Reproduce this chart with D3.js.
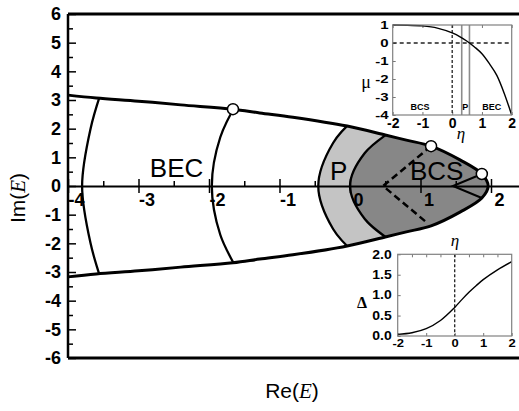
<!DOCTYPE html>
<html>
<head>
<meta charset="utf-8">
<script src="https://cdn.jsdelivr.net/npm/d3@7"></script>
<style>
  body { margin: 0; background: #fff; }
  svg { display: block; font-family: "Liberation Sans", Arial, sans-serif; }
</style>
</head>
<body>
<svg id="chart" width="519" height="411"></svg>
<script>
// outer edge of the spectrum, traced from the top-left round the tip to the bottom-left
const boundaryRe = [-4.0, -3.6, -3.0, -2.4, -1.66, -1.28, -0.81, -0.04, 0.5, 0.8, 1.15, 1.56, 1.87, 1.96,
  1.87, 1.56, 1.15, 0.8, 0.5, -0.04, -0.81, -1.28, -1.66, -2.4, -3.0, -3.6, -4.0];
const boundaryIm = [3.17, 3.07, 2.96, 2.83, 2.68, 2.55, 2.4, 2.09, 1.78, 1.6, 1.39, 0.91, 0.42, 0,
  -0.42, -0.91, -1.39, -1.6, -1.78, -2.09, -2.4, -2.55, -2.68, -2.83, -2.96, -3.07, -3.17];

// inner level curves (end points sit just outside the edge, the clip trims them)
const becOuterRe = [-3.5, -3.68, -3.8, -3.68, -3.5];
const becOuterIm = [3.5, 2.0, 0, -2.0, -3.5];
const becInnerRe = [-1.58, -1.84, -1.96, -1.84, -1.58];
const becInnerIm = [3.0, 1.7, 0, -1.7, -3.0];
const pEdgeRe = [0.09, -0.24, -0.45, -0.24, 0.09];
const pEdgeIm = [2.4, 1.5, 0, -1.5, -2.4];
const bcsEdgeRe = [0.7, 0.21, 0.0, 0.21, 0.7];
const bcsEdgeIm = [2.1, 1.15, 0, -1.15, -2.1];

const dashRe = [1.15, 0.47, 1.1];
const dashIm = [1.39, 0, -1.3];
const chevronRe = [1.87, 1.46, 1.87];
const chevronIm = [0.42, 0, -0.42];
const markerRe = [-1.66, 1.15, 1.87];
const markerIm = [2.68, 1.39, 0.42];

const regionNames = ["BEC", "P", "BCS"];
const regionRe = [-2.46, -0.16, 1.23];
const regionIm = [0.31, 0.21, 0.21];

const xTicks = [-4, -3, -2, -1, 0, 1, 2];
const xMinorTicks = [-3.5, -2.5, -1.5, -0.5, 0.5, 1.5];
const yTicks = [-6, -5, -4, -3, -2, -1, 0, 1, 2, 3, 4, 5, 6];
const yMinorTicks = [-5.5, -4.5, -3.5, -2.5, -1.5, -0.5, 0.5, 1.5, 2.5, 3.5, 4.5, 5.5];

// inset: chemical potential
const etaMu = [-2, -1.5, -1, -0.5, 0, 0.25, 0.5, 0.75, 1, 1.25, 1.5, 1.75, 2];
const muValues = [1.0, 0.99, 0.95, 0.83, 0.56, 0.36, 0.1, -0.22, -0.6, -1.15, -1.8, -2.8, -4.0];
const phaseBorders = [0.32, 0.58];
const phaseNames = ["BCS", "P", "BEC"];
const phaseEta = [-1.08, 0.44, 1.33];
const muTicks = [-4, -3, -2, -1, 0, 1];

// inset: gap
const etaGap = [-2, -1.5, -1, -0.5, 0, 0.25, 0.5, 0.75, 1, 1.5, 2];
const gapValues = [0.04, 0.08, 0.18, 0.38, 0.7, 0.89, 1.07, 1.23, 1.38, 1.62, 1.82];
const gapTicks = [0, 0.5, 1, 1.5, 2];
const etaTicks = [-2, -1, 0, 1, 2];
const etaHalfTicks = [-1.5, -1, -0.5, 0, 0.5, 1, 1.5];

const svg = d3.select("#chart");
const x = d3.scaleLinear([-4, 2.5], [68, 526.25]);
const y = d3.scaleLinear([-6, 6], [358, 14]);
const pts = (re, im) => re.map((r, i) => [x(r), y(im[i])]);
const smooth = d3.line().curve(d3.curveCatmullRom.alpha(0.5));
const straight = d3.line();

function drawRegions() {
  svg.append("clipPath").attr("id", "inside")
    .append("path").attr("d", smooth(pts(boundaryRe, boundaryIm)) + "Z");

  const g = svg.append("g").attr("clip-path", "url(#inside)");
  const farRight = `L${x(3)},${y(-4)}L${x(3)},${y(4)}Z`;
  g.append("path").attr("d", smooth(pts(pEdgeRe, pEdgeIm)) + farRight).attr("fill", "#c4c4c4");
  g.append("path").attr("d", smooth(pts(bcsEdgeRe, bcsEdgeIm)) + farRight).attr("fill", "#878787");

  [[becOuterRe, becOuterIm], [becInnerRe, becInnerIm], [pEdgeRe, pEdgeIm], [bcsEdgeRe, bcsEdgeIm]]
    .forEach(([re, im]) => {
      g.append("path").attr("d", smooth(pts(re, im)))
        .attr("fill", "none").attr("stroke", "#000").attr("stroke-width", 2.3);
    });

  svg.append("path").attr("d", smooth(pts(boundaryRe, boundaryIm)))
    .attr("fill", "none").attr("stroke", "#000").attr("stroke-width", 3);
}

function drawAxes() {
  const frame = svg.append("g").attr("stroke", "#000");
  frame.append("line").attr("x1", 68).attr("x2", 519).attr("y1", 14).attr("y2", 14).attr("stroke-width", 3);
  frame.append("line").attr("x1", 68).attr("x2", 519).attr("y1", 358).attr("y2", 358).attr("stroke-width", 3);
  frame.append("line").attr("x1", 68).attr("x2", 68).attr("y1", 14).attr("y2", 358).attr("stroke-width", 2.5);

  const yAxis = svg.append("g").attr("transform", "translate(68,0)")
    .call(d3.axisLeft(y).tickValues(yTicks).tickSize(-8).tickPadding(7).tickFormat(String));
  yAxis.select(".domain").remove();
  yAxis.selectAll("line").attr("stroke-width", 1.5);
  yAxis.selectAll("text").attr("font-size", 18).attr("font-weight", "bold")
    .attr("font-family", "Liberation Sans, Arial, sans-serif").attr("fill", "#000");

  const yMinor = svg.append("g").attr("transform", "translate(68,0)")
    .call(d3.axisLeft(y).tickValues(yMinorTicks).tickSize(-5).tickFormat(""));
  yMinor.select(".domain").remove();
  yMinor.selectAll("line").attr("stroke-width", 1.5);

  const xAxis = svg.append("g").attr("transform", `translate(0,${y(0)})`)
    .call(d3.axisBottom(x).tickValues(xTicks).tickSize(7).tickSizeOuter(0).tickPadding(0).tickFormat(String));
  xAxis.select(".domain").attr("stroke-width", 2);
  xAxis.selectAll(".tick line").attr("y1", -7).attr("stroke-width", 1.5);
  xAxis.selectAll("text").attr("dx", 8).attr("font-size", 18).attr("font-weight", "bold")
    .attr("font-family", "Liberation Sans, Arial, sans-serif").attr("fill", "#000");

  const xMinor = svg.append("g").attr("transform", `translate(0,${y(0)})`)
    .call(d3.axisBottom(x).tickValues(xMinorTicks).tickSize(-5).tickFormat(""));
  xMinor.select(".domain").remove();
  xMinor.selectAll("line").attr("stroke-width", 1.5);

  svg.append("text").attr("x", 292).attr("y", 398).attr("text-anchor", "middle").attr("font-size", 21)
    .call((t) => {
      t.append("tspan").text("Re(");
      t.append("tspan").attr("font-family", "Liberation Serif, serif").attr("font-style", "italic").text("E");
      t.append("tspan").text(")");
    });
  svg.append("text").attr("transform", "translate(18,198) rotate(-90)").attr("dy", "0.35em")
    .attr("text-anchor", "middle").attr("font-size", 21)
    .call((t) => {
      t.append("tspan").text("Im(");
      t.append("tspan").attr("font-family", "Liberation Serif, serif").attr("font-style", "italic").text("E");
      t.append("tspan").text(")");
    });
}

function drawPaths() {
  svg.append("path").attr("d", straight(pts(dashRe, dashIm)))
    .attr("fill", "none").attr("stroke", "#000").attr("stroke-width", 2.5).attr("stroke-dasharray", "7,4");
  svg.append("path").attr("d", straight(pts(chevronRe, chevronIm)))
    .attr("fill", "none").attr("stroke", "#000").attr("stroke-width", 2);

  svg.selectAll("circle.marker").data(markerRe).join("circle").attr("class", "marker")
    .attr("cx", (d) => x(d)).attr("cy", (d, i) => y(markerIm[i])).attr("r", 5.5)
    .attr("fill", "#fff").attr("stroke", "#000").attr("stroke-width", 1.5);

  svg.selectAll("text.region").data(regionNames).join("text").attr("class", "region")
    .attr("x", (d, i) => x(regionRe[i])).attr("y", (d, i) => y(regionIm[i]))
    .attr("text-anchor", "middle").attr("font-size", 26).text((d) => d);
}

function styleInsetAxis(g, size, squash) {
  g.select(".domain").remove();
  g.selectAll("line").attr("stroke", "#777");
  g.selectAll("text").attr("font-size", size).attr("font-weight", "bold")
    .attr("font-family", "Liberation Sans, Arial, sans-serif").attr("fill", "#000");
  if (squash) g.selectAll("text").attr("transform", `scale(1,${squash})`);
}

function drawMuInset() {
  const ex = d3.scaleLinear([-2, 2], [392.7, 511.7]);
  const ey = d3.scaleLinear([-4, 1], [115, 25]);
  const [left, right] = ex.range();
  const [bottom, top] = ey.range();
  const g = svg.append("g");
  g.append("rect").attr("x", left).attr("y", top).attr("width", right - left).attr("height", bottom - top).attr("fill", "#fff");

  styleInsetAxis(g.append("g").attr("transform", `translate(0,${bottom})`)
    .call(d3.axisBottom(ex).tickValues(etaTicks).tickSize(-3).tickPadding(3).tickFormat(String)), 14);
  styleInsetAxis(g.append("g").attr("transform", `translate(0,${top})`)
    .call(d3.axisTop(ex).tickValues(etaTicks).tickSize(-3).tickFormat("")), 14);
  styleInsetAxis(g.append("g").attr("transform", `translate(${left},0)`)
    .call(d3.axisLeft(ey).tickValues(muTicks).tickSize(-3).tickPadding(4).tickFormat(String)), 15, 0.75);

  phaseBorders.forEach((e) => {
    g.append("line").attr("x1", ex(e)).attr("x2", ex(e)).attr("y1", top).attr("y2", bottom)
      .attr("stroke", "#8c8c8c").attr("stroke-width", 1.6);
  });
  g.append("line").attr("x1", ex(0)).attr("x2", ex(0)).attr("y1", top).attr("y2", bottom)
    .attr("stroke", "#222").attr("stroke-width", 1.3).attr("stroke-dasharray", "3,2");
  g.append("line").attr("x1", left).attr("x2", right).attr("y1", ey(0)).attr("y2", ey(0))
    .attr("stroke", "#222").attr("stroke-width", 1.3).attr("stroke-dasharray", "4,3");

  const line = d3.line().x((d) => ex(d)).y((d, i) => ey(muValues[i])).curve(d3.curveMonotoneX);
  g.append("path").attr("d", line(etaMu)).attr("fill", "none").attr("stroke", "#000").attr("stroke-width", 1.4);

  g.append("rect").attr("x", left).attr("y", top).attr("width", right - left).attr("height", bottom - top)
    .attr("fill", "none").attr("stroke", "#808080").attr("stroke-width", 1.2);

  g.selectAll("text.phase").data(phaseNames).join("text").attr("class", "phase")
    .attr("x", (d, i) => ex(phaseEta[i])).attr("y", 110).attr("text-anchor", "middle")
    .attr("font-size", 9).attr("font-weight", "bold").text((d) => d);
  g.append("text").attr("x", 366).attr("y", 88).attr("text-anchor", "middle")
    .attr("font-family", "Liberation Serif, serif").attr("font-size", 18).text("μ");
  g.append("text").attr("x", 461).attr("y", 139).attr("text-anchor", "middle")
    .attr("font-family", "Liberation Serif, serif").attr("font-style", "italic").attr("font-size", 17).text("η");
}

function drawGapInset() {
  const ex = d3.scaleLinear([-2, 2], [397.7, 511.7]);
  const ey = d3.scaleLinear([0, 2], [336, 254.3]);
  const [left, right] = ex.range();
  const [bottom, top] = ey.range();
  const g = svg.append("g");
  g.append("rect").attr("x", left).attr("y", top).attr("width", right - left).attr("height", bottom - top).attr("fill", "#fff");

  styleInsetAxis(g.append("g").attr("transform", `translate(0,${bottom})`)
    .call(d3.axisBottom(ex).tickValues(etaTicks).tickSize(-3).tickPadding(3).tickFormat(String)), 13, 0.9);
  styleInsetAxis(g.append("g").attr("transform", `translate(0,${top})`)
    .call(d3.axisTop(ex).tickValues(etaHalfTicks).tickSize(-3).tickFormat("")), 14);
  styleInsetAxis(g.append("g").attr("transform", `translate(${left},0)`)
    .call(d3.axisLeft(ey).tickValues(gapTicks).tickSize(-3).tickPadding(6).tickFormat(d3.format(".1f"))), 14, 0.85);

  g.append("line").attr("x1", ex(0)).attr("x2", ex(0)).attr("y1", top).attr("y2", bottom)
    .attr("stroke", "#222").attr("stroke-width", 1.3).attr("stroke-dasharray", "3,2");

  const line = d3.line().x((d) => ex(d)).y((d, i) => ey(gapValues[i])).curve(d3.curveCatmullRom.alpha(0.5));
  g.append("path").attr("d", line(etaGap)).attr("fill", "none").attr("stroke", "#000").attr("stroke-width", 1.4);

  g.append("rect").attr("x", left).attr("y", top).attr("width", right - left).attr("height", bottom - top)
    .attr("fill", "none").attr("stroke", "#808080").attr("stroke-width", 1.2);

  g.append("text").attr("x", 362).attr("y", 308).attr("text-anchor", "middle")
    .attr("font-family", "Liberation Serif, serif").attr("font-weight", "bold").attr("font-size", 16).text("Δ");
  g.append("text").attr("x", 455).attr("y", 246).attr("text-anchor", "middle")
    .attr("font-family", "Liberation Serif, serif").attr("font-style", "italic").attr("font-size", 17).text("η");
}

drawRegions();
drawAxes();
drawPaths();
drawMuInset();
drawGapInset();
</script>
</body>
</html>
